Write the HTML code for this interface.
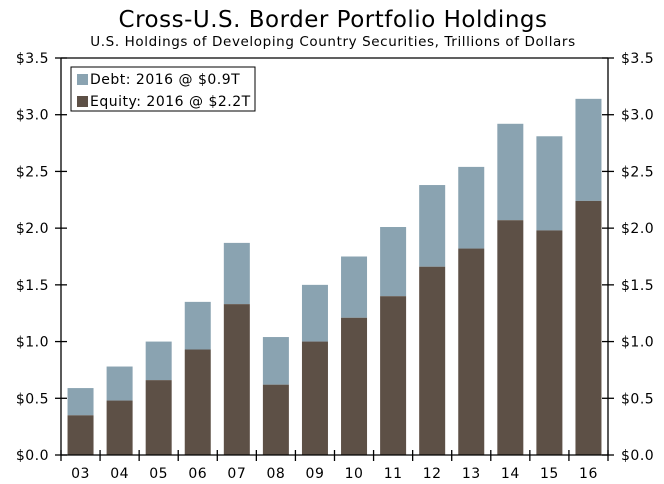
<!DOCTYPE html>
<html><head><meta charset="utf-8"><style>
body{margin:0;background:#fff;}
svg{display:block;font-family:"DejaVu Sans","Liberation Sans",sans-serif;}
</style></head><body>
<svg id="chart" width="664" height="484" xmlns="http://www.w3.org/2000/svg">
<text x="333" y="27" text-anchor="middle" font-size="23" letter-spacing="0.5" fill="#000">Cross-U.S. Border Portfolio Holdings</text>
<text x="333" y="46" text-anchor="middle" font-size="13.5" letter-spacing="0.6" fill="#000">U.S. Holdings of Developing Country Securities, Trillions of Dollars</text>
<g id="bars"></g>
<g id="axes"></g>
<g>
<rect x="71" y="67" width="184" height="44" fill="#fff" stroke="#000" stroke-width="1"/>
<rect x="77" y="74" width="11" height="11" fill="#8aa3b1"/>
<text x="90" y="84" font-size="14" letter-spacing="0.5">Debt: 2016 @ $0.9T</text>
<rect x="77" y="96" width="11" height="11" fill="#5d5046"/>
<text x="90" y="106" font-size="14" letter-spacing="0.5">Equity: 2016 @ $2.2T</text>
</g>
</svg>
<script>
const categories=["03","04","05","06","07","08","09","10","11","12","13","14","15","16"];
const equity=[0.35,0.48,0.66,0.93,1.33,0.62,1.00,1.21,1.40,1.66,1.82,2.07,1.98,2.24];
const total=[0.59,0.78,1.00,1.35,1.87,1.04,1.50,1.75,2.01,2.38,2.54,2.92,2.81,3.14];
const yTicks=[0,0.5,1.0,1.5,2.0,2.5,3.0,3.5];
const NS="http://www.w3.org/2000/svg";
const X0=61,X1=608,Y0=455,Y1=58,YMAX=3.5;
const bw=(X1-X0)/categories.length;
const y=v=>Y0-(v/YMAX)*(Y0-Y1);
const xc=i=>X0+bw*(i+0.5);
function mk(t,a){const e=document.createElementNS(NS,t);for(const k in a)e.setAttribute(k,a[k]);return e;}
const bars=document.getElementById('bars'),axes=document.getElementById('axes');
categories.forEach((c,i)=>{
  const w=26,x=xc(i)-w/2;
  const d=mk('rect',{x:x,y:y(total[i]),width:w,height:y(equity[i])-y(total[i]),fill:'#8aa3b1'});
  
  
  bars.appendChild(d);
  const e=mk('rect',{x:x,y:y(equity[i]),width:w,height:Y0-y(equity[i]),fill:'#5d5046'});
  
  
  bars.appendChild(e);
  const t=mk('text',{x:xc(i),y:478,'text-anchor':'middle','font-size':14,'letter-spacing':0.5});
  t.textContent=c;
  
  
  axes.appendChild(t);
});
axes.appendChild(mk('path',{d:`M${X0} ${Y1}H${X1}M${X0} ${Y1}V${Y0}M${X1} ${Y1}V${Y0}M${X0} ${Y0}H${X1}`,stroke:'#000','stroke-width':1.3,fill:'none'}));
for(let i=0;i<=categories.length;i++){
  const x=X0+bw*i;
  axes.appendChild(mk('line',{x1:x,x2:x,y1:Y0-5,y2:Y0+6,stroke:'#000','stroke-width':1.3}));
}
yTicks.forEach(v=>{
  const yy=y(v);
  axes.appendChild(mk('line',{x1:X0-6,x2:X0+6,y1:yy,y2:yy,stroke:'#000','stroke-width':1.3}));
  axes.appendChild(mk('line',{x1:X1-6,x2:X1+6,y1:yy,y2:yy,stroke:'#000','stroke-width':1.3}));
  const l=mk('text',{x:49,y:yy+5,'text-anchor':'end','font-size':14,'letter-spacing':0.5});
  l.textContent='$'+v.toFixed(1);
  
  
  axes.appendChild(l);
  const r=mk('text',{x:621,y:yy+5,'text-anchor':'start','font-size':14,'letter-spacing':0.5});
  r.textContent='$'+v.toFixed(1);
  
  
  axes.appendChild(r);
});
</script>
</body></html>
